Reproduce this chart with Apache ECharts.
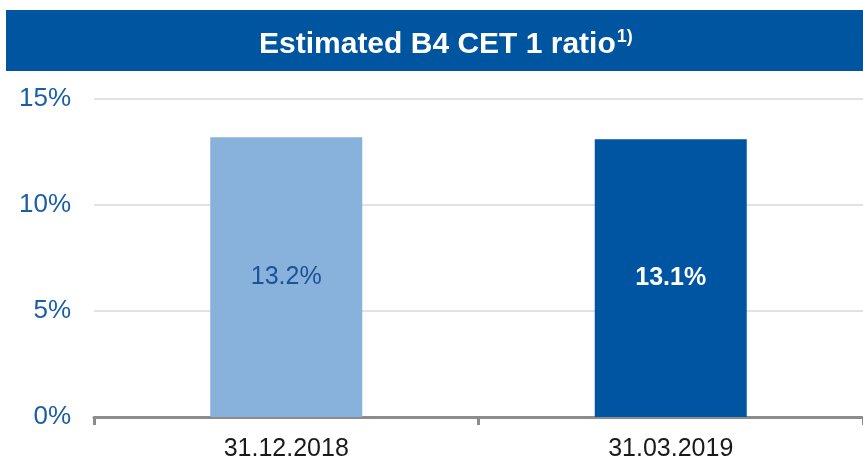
<!DOCTYPE html>
<html>
<head>
    <meta charset="UTF-8">
    <title>Estimated B4 CET 1 ratio</title>
    <script src="https://cdn.jsdelivr.net/npm/echarts@6/dist/echarts.min.js"></script>
    <style>
        html, body, #chart {
            width: 100%;
            height: 100%;
            margin: 0;
            padding: 0;
        }
        body { overflow: hidden; background: #fff; }
    </style>
</head>
<body>
    <div id="chart"></div>
    <script>
        // data
        const categories = ['31.12.2018', '31.03.2019'];
        const ratios = [13.2, 13.1];
        const yTicks = { min: 0, max: 15, step: 5 };

        // per-bar look
        const barColors = ['#88b1dc', '#0055a2'];
        const labelColors = ['#1c5296', '#ffffff'];
        const labelWeights = ['normal', 'bold'];

        var chart = echarts.init(document.getElementById('chart'));

        var option = {
            animation: false,
            textStyle: { fontFamily: 'Liberation Sans, Arial, sans-serif' },
            graphic: [
                {   // blue title banner
                    type: 'rect',
                    shape: { x: 6, y: 10, width: 857, height: 61 },
                    style: { fill: '#0055a0' },
                    z: 0
                }
            ],
            title: {
                text: '{a|Estimated B4 CET 1 ratio}{b|1)}',
                left: 254,
                top: 23,
                z: 10,
                textStyle: {
                    rich: {
                        a: { color: '#fff', fontSize: 30, fontWeight: 'bold', fontFamily: 'Liberation Sans, Arial, sans-serif' },
                        b: { color: '#fff', fontSize: 18, fontWeight: 'bold', padding: [0, 0, 16, 1], fontFamily: 'Liberation Sans, Arial, sans-serif' }
                    }
                }
            },
            grid: { left: 94, right: 0, top: 99, bottom: 42, containLabel: false, outerBoundsMode: 'none' },
            xAxis: {
                type: 'category',
                data: categories,
                axisLine: { lineStyle: { color: '#8c8c8c', width: 3 } },
                axisTick: { show: true, length: 8, lineStyle: { color: '#8c8c8c', width: 3 } },
                axisLabel: { color: '#1a1a1a', fontSize: 25, margin: 20 }
            },
            yAxis: {
                type: 'value',
                min: yTicks.min,
                max: yTicks.max,
                interval: yTicks.step,
                axisLine: { show: false },
                axisTick: { show: false },
                splitLine: { lineStyle: { color: '#d9d9d9', width: 1.5 } },
                axisLabel: { color: '#1a5ea8', fontSize: 26, margin: 23, formatter: '{value}%' }
            },
            series: [
                {
                    type: 'bar',
                    barWidth: 152,
                    data: ratios.map((v, i) => ({
                        value: v,
                        itemStyle: { color: barColors[i] },
                        label: { color: labelColors[i], fontWeight: labelWeights[i] }
                    })),
                    label: {
                        show: true,
                        position: 'inside',
                        fontSize: 25,
                        formatter: p => p.value.toFixed(1) + '%'
                    }
                }
            ]
        };

        chart.setOption(option);
        window.addEventListener('resize', function () {
            chart.resize();
        });
    </script>
</body>
</html>
